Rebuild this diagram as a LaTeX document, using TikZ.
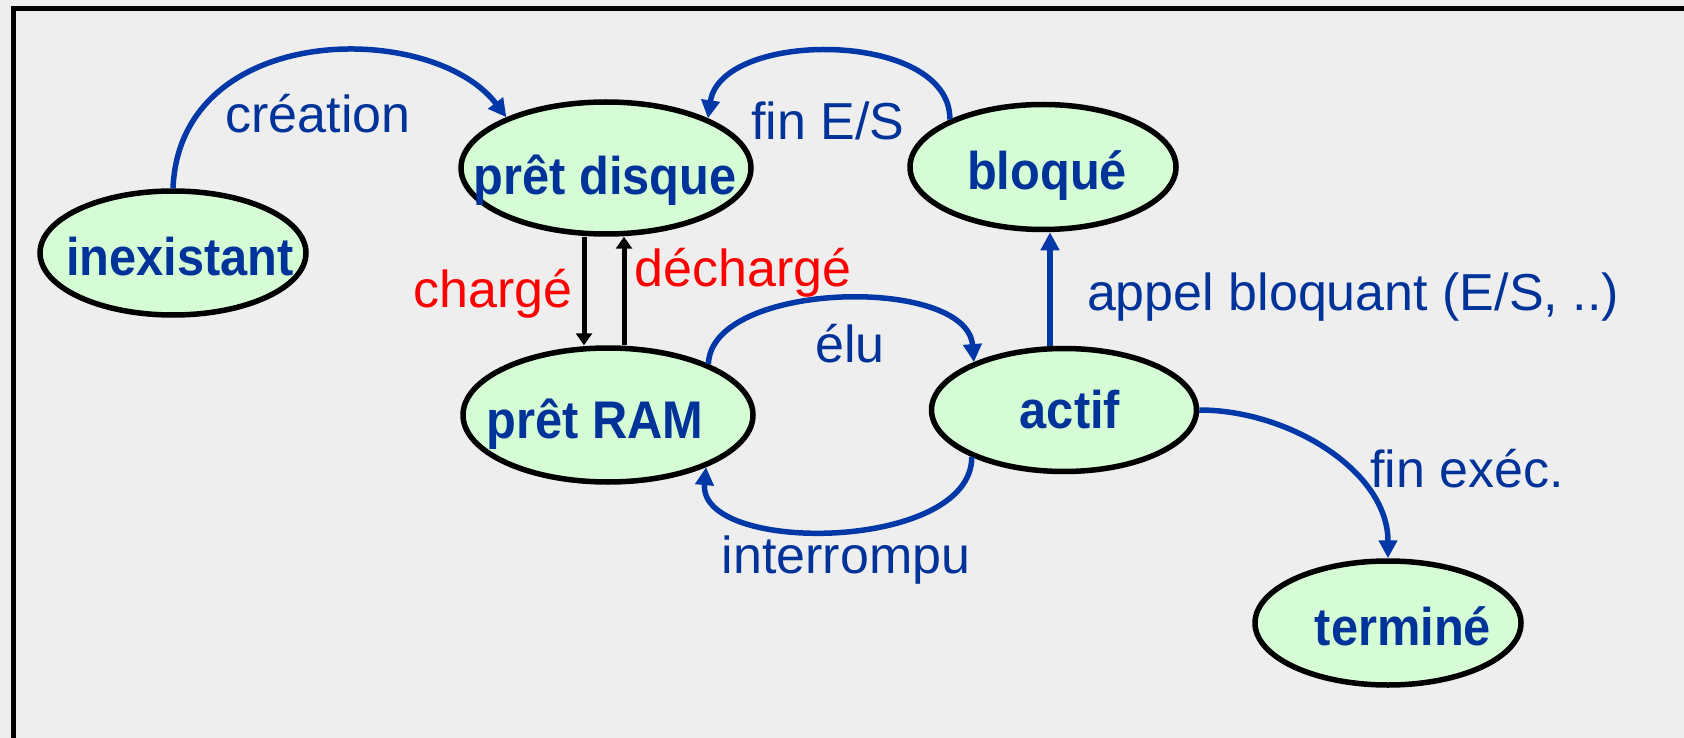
\documentclass[tikz,border=0pt]{standalone}
\usepackage{fontspec}
\setmainfont{Liberation Sans}
\newfontfamily\statefont[FakeStretch=0.92]{Liberation Sans}
\usetikzlibrary{arrows.meta,shapes.geometric}
\definecolor{tblue}{HTML}{003399}
\definecolor{ablue}{HTML}{0038A8}
\definecolor{sfill}{HTML}{D5FCD5}
\definecolor{bgc}{HTML}{EEEEEE}
\tikzset{
 state/.style={ellipse, draw=black, line width=5.5pt, fill=sfill, inner sep=0pt},
 stxt/.style={anchor=base, text=tblue, font=\statefont\fontsize{53}{60}\selectfont\bfseries, inner sep=0pt},
 lbl/.style={anchor=base, text=tblue, font=\fontsize{52}{60}\selectfont, inner sep=0pt},
 rlbl/.style={lbl, text=red},
 barrow/.style={draw=ablue, line width=5.5pt, -{Triangle[length=18pt,width=18pt]}},
 karrow/.style={draw=black, line width=5pt, -{Triangle[length=12pt,width=16pt]}},
 frame/.style={draw=black, line width=5pt},
}
\begin{document}
\begin{tikzpicture}[x=1pt,y=-1pt]
\useasboundingbox (0,0) rectangle (1684,738);
\fill[bgc] (0,0) rectangle (1684,738);
\draw[frame] (13,745) -- (13,8.5) -- (1690,8.5);
% states
\node[state, minimum width=266pt, minimum height=124pt] (inex) at (173,253) {};
\node[state, minimum width=290pt, minimum height=132pt] (pdisk) at (606,168) {};
\node[state, minimum width=266pt, minimum height=125pt] (bloq) at (1043,167) {};
\node[state, minimum width=290pt, minimum height=134pt] (pram) at (608,415) {};
\node[state, minimum width=265pt, minimum height=123pt] (actif) at (1064,410) {};
\node[state, minimum width=266pt, minimum height=124pt] (term) at (1388,623) {};
% state texts
\node[stxt] (inex-t) at (180,275) {inexistant};
\node[stxt] (pdisk-t) at (605,195) {prêt disque};
\node[stxt] (bloq-t) at (1047,190) {bloqué};
\node[stxt] (pram-t) at (595,438) {prêt RAM};
\node[stxt] (actif-t) at (1070,428) {actif};
\node[stxt] (term-t) at (1403,645) {terminé};
% transitions
\draw[barrow] (inex.north) .. controls +(7,-168) and +(-74,-97) .. (pdisk.153);
\draw[barrow] (bloq.153) .. controls +(1,-90) and +(13,-89) .. (pdisk.26);
\draw[karrow] ([xshift=-22pt]pdisk.south) -- ([xshift=-24pt]pram.north);
\draw[karrow] ([xshift=16pt]pram.north) -- ([xshift=18pt]pdisk.south);
\draw[barrow] (pram.27) .. controls +(3,-83) and +(-7,-87) .. (actif.152);
\draw[barrow] (actif.207) .. controls +(0,95) and +(-8,88) .. (pram.332);
\draw[barrow] ([xshift=-14pt]actif.north) -- ([xshift=7pt]bloq.south);
\draw[barrow] (actif.east) .. controls +(90,0) and +(0,-87) .. (term.north);
% labels
\node[lbl] (l-crea) at (318,133) {création};
\node[lbl] (l-fines) at (828,140) {fin E/S};
\node[rlbl] (l-charge) at (493,307) {chargé};
\node[rlbl] (l-decharge) at (743,287) {déchargé};
\node[lbl] (l-elu) at (850,362) {élu};
\node[lbl] (l-interr) at (846,573) {interrompu};
\node[lbl] (l-appel) at (1353,310) {appel bloquant (E/S, ..)};
\node[lbl] (l-finexec) at (1467,487) {fin exéc.};
\end{tikzpicture}
\end{document}
